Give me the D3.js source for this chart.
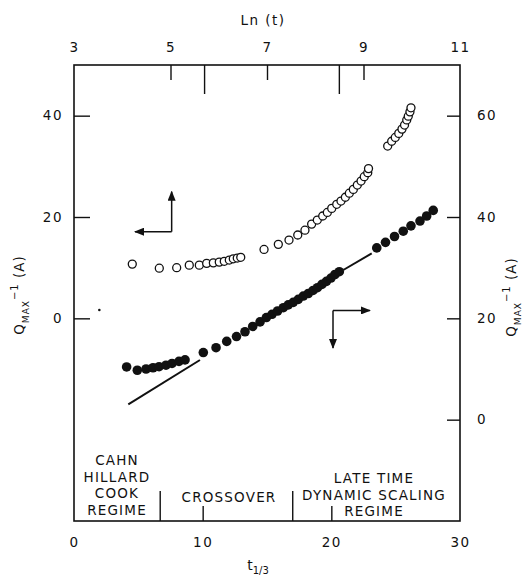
<!DOCTYPE html>
<html>
<head>
<meta charset="utf-8">
<script src="https://cdn.jsdelivr.net/npm/d3@7"></script>
<style>
  body { margin: 0; background: #fff; }
  svg text { font-family: "DejaVu Sans", sans-serif; fill: #111; }
  .tick text { font-size: 13.5px; letter-spacing: 1.5px; }
  .regime { font-size: 13.5px; letter-spacing: 1.2px; }
</style>
</head>
<body>
<div id="svg-area"></div>
<script>
// t^(1/3) values and inverse peak position
var openT = [4.53, 6.63, 7.98, 8.96, 9.74, 10.31, 10.83, 11.29, 11.68, 12.07, 12.38, 12.69, 12.96,
    14.77, 15.88, 16.71, 17.39, 17.95, 18.47, 18.91, 19.33, 19.69, 20.03, 20.42, 20.75, 21.09,
    21.4, 21.71, 22.02, 22.31, 22.56, 22.83, 22.89,
    24.38, 24.69, 24.97, 25.24, 25.49, 25.69, 25.86, 25.98, 26.11, 26.19];
var openQ = [10.7, 9.9, 10.0, 10.5, 10.5, 10.85, 10.95, 11.1, 11.25, 11.5, 11.75, 11.9, 12.05,
    13.6, 14.6, 15.45, 16.45, 17.4, 18.6, 19.4, 20.2, 20.9, 21.7, 22.5, 23.15, 23.9,
    24.7, 25.45, 26.3, 27.1, 27.95, 28.75, 29.55,
    34.0, 34.95, 35.7, 36.5, 37.35, 38.15, 39.15, 39.9, 40.75, 41.55];

var filledT = [4.09, 4.92, 5.60, 6.14, 6.61, 7.15, 7.62, 8.16, 8.63, 10.05, 11.04, 11.87, 12.63,
    13.29, 13.89, 14.46, 14.95, 15.39, 15.82, 16.27, 16.65, 17.04, 17.43, 17.82, 18.21, 18.58,
    18.92, 19.27, 19.62, 19.97, 20.28, 20.62,
    23.53, 24.21, 24.91, 25.59, 26.19, 26.89, 27.41, 27.92];
var filledQ = [10.4, 9.75, 10.0, 10.25, 10.45, 10.75, 11.1, 11.5, 11.8, 13.25, 14.2, 15.45, 16.4,
    17.35, 18.4, 19.3, 20.15, 20.8, 21.45, 22.1, 22.65, 23.15, 23.75, 24.4, 24.9, 25.5,
    26.05, 26.7, 27.3, 27.95, 28.65, 29.2,
    33.9, 35.0, 36.15, 37.2, 38.25, 39.2, 40.2, 41.3];

// straight line fits (right axis)
var fitEarlyT = [4.22, 9.79], fitEarlyQ = [3.02, 11.78];
var fitLateT = [20.93, 23.14], fitLateQ = [29.54, 32.82];

// axis ticks
var bottomTicks = [0, 10, 20, 30];
var topTicks = [3, 5, 7, 9, 11];
var leftTicks = [0, 20, 40];
var rightTicks = [0, 20, 40, 60];

// regime boundaries in t^(1/3)
var regimeBounds = [6.7, 17.0];

var svgWidth = 527, svgHeight = 577;
var margin = { top: 65, right: 67, bottom: 56, left: 74 };

var svg = d3.select("#svg-area")
    .append("svg")
    .attr("width", svgWidth)
    .attr("height", svgHeight);

var x = d3.scaleLinear().domain([0, 30]).range([margin.left, svgWidth - margin.right]);
var xTop = d3.scaleLinear().domain([3, 11]).range([margin.left, svgWidth - margin.right]);
var yLeft = d3.scaleLinear().domain([-40, 50]).range([svgHeight - margin.bottom, margin.top]);
var yRight = d3.scaleLinear().domain([-20, 70]).range([svgHeight - margin.bottom, margin.top]);

var x0 = margin.left, x1 = svgWidth - margin.right;
var y0 = margin.top, y1 = svgHeight - margin.bottom;

// arrowhead
var defs = svg.append("defs");
defs.append("marker")
    .attr("id", "head")
    .attr("viewBox", "0 0 10 8")
    .attr("refX", 9).attr("refY", 4)
    .attr("markerWidth", 10).attr("markerHeight", 8)
    .attr("markerUnits", "userSpaceOnUse")
    .attr("orient", "auto")
    .append("path")
    .attr("d", "M0,0 L10,4 L0,8 Z")
    .attr("fill", "#111");

// frame
svg.append("rect")
    .attr("x", x0).attr("y", y0)
    .attr("width", x1 - x0).attr("height", y1 - y0)
    .attr("fill", "none")
    .attr("stroke", "#111")
    .attr("stroke-width", 1.6);

// axes
function styleAxis(g) {
    g.select(".domain").remove();
    g.selectAll(".tick line").attr("stroke", "#111").attr("stroke-width", 1.4);
    g.selectAll(".tick text").attr("font-family", null).attr("font-size", null);
}

svg.append("g")
    .attr("transform", `translate(0, ${y1})`)
    .call(d3.axisBottom(x).tickValues(bottomTicks).tickSizeInner(-15).tickSizeOuter(0).tickPadding(16))
    .call(styleAxis)
    .call(g => g.selectAll(".tick").filter(d => d == 0 || d == 30).select("line").remove());

svg.append("g")
    .attr("transform", `translate(0, ${y0})`)
    .call(d3.axisTop(xTop).tickValues(topTicks).tickSizeInner(-15).tickSizeOuter(0).tickPadding(13))
    .call(styleAxis)
    .call(g => g.selectAll(".tick").filter(d => d == 3 || d == 11).select("line").remove());

svg.append("g")
    .attr("transform", `translate(${x0}, 0)`)
    .call(d3.axisLeft(yLeft).tickValues(leftTicks).tickSizeInner(-16).tickSizeOuter(0).tickPadding(11))
    .call(styleAxis);

svg.append("g")
    .attr("transform", `translate(${x1}, 0)`)
    .call(d3.axisRight(yRight).tickValues(rightTicks).tickSizeInner(-13).tickSizeOuter(0).tickPadding(17))
    .call(styleAxis);

// long ticks on top axis at the regime boundaries
svg.append("g").selectAll("line")
    .data(regimeBounds)
    .enter()
    .append("line")
    .attr("x1", d => xTop(3 * Math.log(d)))
    .attr("x2", d => xTop(3 * Math.log(d)))
    .attr("y1", y0).attr("y2", y0 + 29)
    .attr("stroke", "#111").attr("stroke-width", 1.4);

// regime dividers at the bottom
svg.append("g").selectAll("line")
    .data(regimeBounds)
    .enter()
    .append("line")
    .attr("x1", d => x(d)).attr("x2", d => x(d))
    .attr("y1", y1 - 30).attr("y2", y1)
    .attr("stroke", "#111").attr("stroke-width", 1.4);

// fit lines
var line = d3.line().x(d => x(d[0])).y(d => yRight(d[1]));
svg.append("path")
    .attr("d", line(d3.zip(fitEarlyT, fitEarlyQ)))
    .attr("stroke", "#111").attr("stroke-width", 2).attr("fill", "none");
svg.append("path")
    .attr("d", line(d3.zip(fitLateT, fitLateQ)))
    .attr("stroke", "#111").attr("stroke-width", 2).attr("fill", "none");

// open circles (left axis)
svg.append("g").selectAll("circle")
    .data(d3.zip(openT, openQ))
    .enter()
    .append("circle")
    .attr("cx", d => x(d[0]))
    .attr("cy", d => yLeft(d[1]))
    .attr("r", 4)
    .attr("fill", "#fff")
    .attr("stroke", "#111")
    .attr("stroke-width", 1.3);

// filled circles (right axis)
svg.append("g").selectAll("circle")
    .data(d3.zip(filledT, filledQ))
    .enter()
    .append("circle")
    .attr("cx", d => x(d[0]))
    .attr("cy", d => yRight(d[1]))
    .attr("r", 4.8)
    .attr("fill", "#111");

// stray speck near the left axis
svg.append("circle")
    .attr("cx", x(1.97)).attr("cy", yLeft(1.64))
    .attr("r", 1.3).attr("fill", "#111");

// arrows telling which axis each set belongs to
function arrowPair(cx, cy, hx, vy, ys) {
    svg.append("line")
        .attr("x1", x(cx)).attr("y1", ys(cy))
        .attr("x2", x(hx)).attr("y2", ys(cy))
        .attr("stroke", "#111").attr("stroke-width", 1.5)
        .attr("marker-end", "url(#head)");
    svg.append("line")
        .attr("x1", x(cx)).attr("y1", ys(cy))
        .attr("x2", x(cx)).attr("y2", ys(vy))
        .attr("stroke", "#111").attr("stroke-width", 1.5)
        .attr("marker-end", "url(#head)");
}
arrowPair(7.59, 17.1, 4.74, 25.0, yLeft);
arrowPair(20.13, 21.55, 23.0, 14.15, yRight);

// regime labels
function block(lines, cx, baseY) {
    var t = svg.append("text")
        .attr("class", "regime")
        .attr("text-anchor", "middle");
    lines.forEach(function(s, i) {
        t.append("tspan").attr("x", cx).attr("y", baseY + i * 16.5).text(s);
    });
}
block(["CAHN", "HILLARD", "COOK", "REGIME"], 117, 465);
block(["CROSSOVER"], 229, 502);
block(["LATE TIME", "DYNAMIC SCALING", "REGIME"], 374, 483);

// axis titles
svg.append("text")
    .attr("x", 263).attr("y", 25)
    .attr("text-anchor", "middle")
    .attr("font-size", 13.5)
    .attr("letter-spacing", 1.5)
    .text("Ln (t)");

var xt = svg.append("text")
    .attr("x", 258).attr("y", 570)
    .attr("text-anchor", "middle")
    .attr("font-size", 14);
xt.append("tspan").text("t");
xt.append("tspan").attr("font-size", 10).attr("dy", 4).text("1/3");

function qTitle(tx, ty) {
    var t = svg.append("text")
        .attr("transform", `translate(${tx}, ${ty}) rotate(-90)`)
        .attr("text-anchor", "middle")
        .attr("font-size", 13.5)
        .attr("letter-spacing", 1);
    t.append("tspan").text("Q");
    t.append("tspan").attr("font-size", 9).attr("dy", 5).text("MAX");
    t.append("tspan").attr("font-size", 10).attr("dy", -11).text("\u22121");
    t.append("tspan").attr("dy", 6).text(" (A)");
}
qTitle(24, 295);
qTitle(516, 297);
</script>
</body>
</html>
